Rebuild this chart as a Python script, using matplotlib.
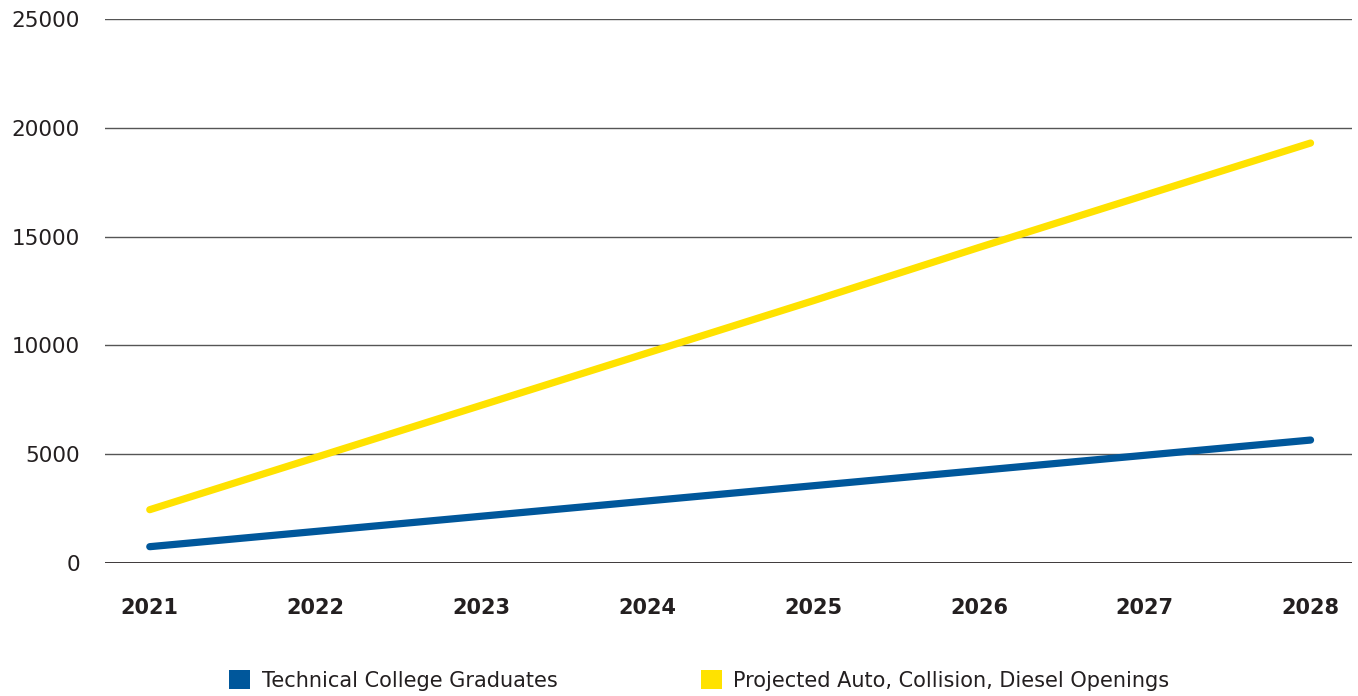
import matplotlib.pyplot as plt
from matplotlib.patches import Patch

years = [2021, 2022, 2023, 2024, 2025, 2026, 2027, 2028]
graduates = [750, 1450, 2150, 2850, 3550, 4250, 4950, 5650]
openings = [2450, 4850, 7250, 9650, 12050, 14500, 16900, 19300]
y_ticks = [0, 5000, 10000, 15000, 20000, 25000]

blue = '#00579b'
yellow = '#ffe200'

plt.rcParams['font.family'] = ['DejaVu Sans']

fig = plt.figure(figsize=(13.58, 6.96), dpi=100)
ax = fig.add_axes([105 / 1358, 1 - 563 / 696, 1247 / 1358, (563 - 19) / 696])

ax.plot(years, graduates, color=blue, lw=5.2, solid_capstyle='round', zorder=3)
ax.plot(years, openings, color=yellow, lw=5.2, solid_capstyle='round', zorder=3)

ax.set_xlim(2020.73, 2028.25)
ax.set_ylim(0, 25000)
ax.set_yticks(y_ticks)
ax.set_xticks(years)
ax.set_xticklabels([str(y) for y in years], fontsize=15, fontweight='bold', color='#231f20')
ax.set_yticklabels([str(v) for v in y_ticks], fontsize=15.5, color='#231f20')
ax.tick_params(axis='y', length=0, pad=18)
ax.tick_params(axis='x', length=0, pad=25)
for s in ax.spines.values():
    s.set_visible(False)
ax.yaxis.grid(True, color='#555555', lw=1)
ax.set_axisbelow(True)
ax.axhline(0, color='#231f20', lw=1.2, zorder=2)

handles = [Patch(facecolor=blue, label='Technical College Graduates'),
           Patch(facecolor=yellow, label='Projected Auto, Collision, Diesel Openings')]
fig.legend(handles=handles, loc='center', bbox_to_anchor=(0.515, 0.022), ncol=2,
           frameon=False, fontsize=15, handlelength=1.0, handleheight=1.0,
           handletextpad=0.55, columnspacing=6.9, labelcolor='#231f20')

fig.savefig('out.png', dpi=100)
